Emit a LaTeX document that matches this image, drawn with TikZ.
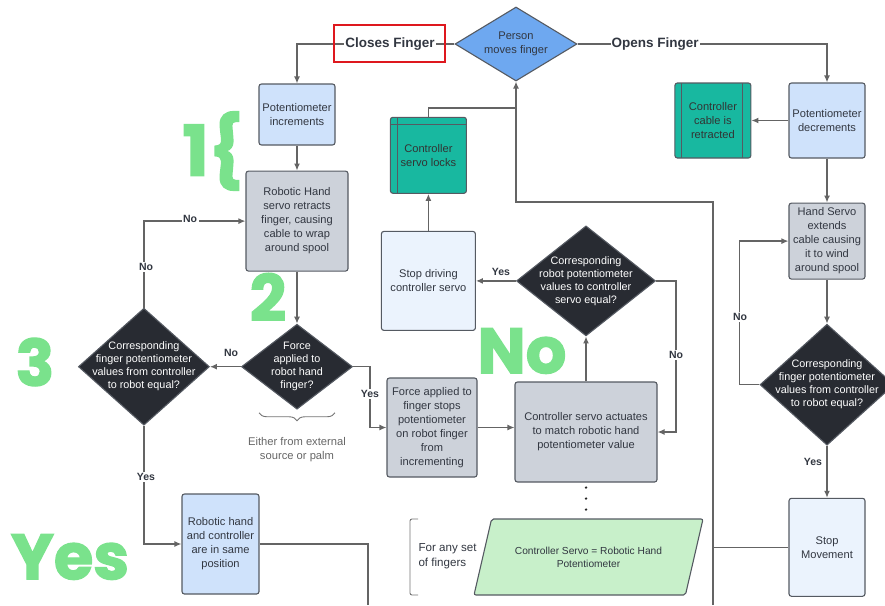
\documentclass[tikz,border=0pt]{standalone}
\usepackage{fontspec}
\setmainfont{Liberation Sans}
\newfontfamily\bigfont{Poppins}[BoldFeatures={FakeBold=2}]
\usepackage{tikz}
\usetikzlibrary{shapes.geometric, positioning}
\usetikzlibrary{arrows.meta, decorations.pathreplacing}
\tikzset{>={Latex[width=6pt,length=7pt]}}

\definecolor{boxblue}{RGB}{207,226,251}
\definecolor{boxpale}{RGB}{235,243,253}
\definecolor{boxgrey}{RGB}{205,210,218}
\definecolor{boxteal}{RGB}{24,184,160}
\definecolor{boxdark}{RGB}{40,43,50}
\definecolor{diablue}{RGB}{110,168,240}
\definecolor{paragreen}{RGB}{200,240,202}
\definecolor{numgreen}{RGB}{122,226,140}
\definecolor{edgeg}{RGB}{85,90,98}
\definecolor{lineg}{RGB}{100,100,100}
\definecolor{textg}{RGB}{50,55,65}
\definecolor{framered}{RGB}{222,24,30}

\begin{document}
\begin{tikzpicture}[x=1pt, y=-1pt,
    box/.style={rectangle, rounded corners=2.5pt, draw=edgeg, line width=1.1pt, align=center, text=textg, inner sep=0.5pt, font=\fontsize{11.1}{14}\selectfont},
    bluebox/.style={box, fill=boxblue},
    palebox/.style={box, fill=boxpale},
    greybox/.style={box, fill=boxgrey},
    tealbox/.style={box, fill=boxteal, text=black!80},
    decision/.style={diamond, draw=edgeg, line width=1.1pt, fill=boxdark, text=white, align=center, inner sep=-12pt, font=\fontsize{10.8}{13}\selectfont},
    flowlabel/.style={fill=white, inner sep=1.5pt, text=textg, font=\bfseries\fontsize{10.5}{12}\selectfont},
    branchlabel/.style={fill=white, inner sep=1pt, text=textg, font=\bfseries\fontsize{13.5}{15}\selectfont},
    bignum/.style={text=numgreen, font=\bigfont\bfseries\fontsize{64}{64}\selectfont},
    flow/.style={draw=lineg, line width=1.3pt},
    dotflow/.style={draw=black!85, line width=2.6pt, line cap=round, dash pattern=on 0pt off 11pt},
    note/.style={text=black!60, align=center, font=\fontsize{11.2}{14}\selectfont} ]

    \useasboundingbox (0,0) rectangle (885,605);

    %Nodes
    \node[diamond, draw=edgeg, line width=1.1pt, fill=diablue, text=textg, align=center, inner sep=-6pt, aspect=1.65, minimum width=122pt, minimum height=74pt, font=\fontsize{11.1}{14}\selectfont] (person) at (516,44) {Person\\moves finger};
    \node[bluebox, minimum width=76pt, minimum height=61pt] (potinc) at (297,114.5) {Potentiometer\\increments};
    \node[greybox, minimum width=102pt, minimum height=100pt] (retract) [below=25pt of potinc] {Robotic Hand\\servo retracts\\finger, causing\\cable to wrap\\around spool};
    \node[decision, aspect=1.3, minimum width=111pt, minimum height=85pt] (force) [below=52pt of retract] {Force\\applied to\\robot hand\\finger?};
    \node[decision, aspect=1.12, minimum width=131pt, minimum height=117pt] (corr1) [left=31pt of force] {Corresponding\\finger potentiometer\\values from controller\\to robot equal?};
    \node[bluebox, minimum width=77pt, minimum height=100pt] (same) at (220.5,544) {Robotic hand\\and controller\\are in same\\position};
    \node[greybox, minimum width=90pt, minimum height=99pt] (forcestop) at (432,427.5) {Force applied to\\finger stops\\potentiometer\\on robot finger\\from\\incrementing};
    \node[greybox, minimum width=142pt, minimum height=100pt] (actuate) at (586,432) {Controller servo actuates\\to match robotic hand\\potentiometer value};
    \node[decision, aspect=1.26, minimum width=139pt, minimum height=110pt] (corr2) [above=45pt of actuate] {Corresponding\\robot potentiometer\\values to controller\\servo equal?};
    \node[palebox, minimum width=94pt, minimum height=99pt] (stopdrive) [left=40pt of corr2] {Stop driving\\controller servo};
    \node[tealbox, minimum width=76pt, minimum height=76pt,
        path picture={\draw[edgeg, line width=0.9pt] ([xshift=7pt]path picture bounding box.north west) -- ([xshift=7pt]path picture bounding box.south west);
                      \draw[edgeg, line width=0.9pt] ([yshift=-7pt]path picture bounding box.north west) -- ([yshift=-7pt]path picture bounding box.north east);}] (locks) [above=37pt of stopdrive] {Controller\\servo locks};
    \node[bluebox, minimum width=76pt, minimum height=75pt] (potdec) at (827,120.5) {Potentiometer\\decrements};
    \node[tealbox, minimum width=76pt, minimum height=75pt,
        path picture={\draw[edgeg, line width=0.9pt] ([xshift=7pt]path picture bounding box.north west) -- ([xshift=7pt]path picture bounding box.south west);
                      \draw[edgeg, line width=0.9pt] ([xshift=-8pt]path picture bounding box.north east) -- ([xshift=-8pt]path picture bounding box.south east);}] (cable) [left=37pt of potdec] {Controller\\cable is\\retracted};
    \node[greybox, minimum width=76pt, minimum height=76pt] (extend) [below=44pt of potdec] {Hand Servo\\extends\\cable causing\\it to wind\\around spool};
    \node[decision, aspect=1.1, minimum width=134pt, minimum height=121pt] (corr3) [below=44pt of extend] {Corresponding\\finger potentiometer\\values from controller\\to robot equal?};
    \node[palebox, minimum width=76pt, minimum height=98pt] (stopmove) [below=52pt of corr3] {Stop\\Movement};
    \node[trapezium, trapezium left angle=76, trapezium right angle=104, trapezium stretches body, draw=edgeg, line width=1.1pt, rounded corners=2pt, fill=paragreen, text=textg, align=center, inner xsep=2pt, inner ysep=25pt, minimum width=229pt, minimum height=76pt, font=\fontsize{10.2}{13}\selectfont] (param) at (588.5,557) {Controller Servo = Robotic Hand\\Potentiometer};
    \node[anchor=west, align=left, text=textg, font=\fontsize{11.6}{15}\selectfont] (fingerset) at (415,556) {For any set\\of fingers};
    \node[note] (either) at (297,450) {Either from external\\source or palm};

    %Big numbers
    \node[bignum, font=\bigfont\bfseries\fontsize{70}{70}\selectfont] (one) at (213,151) {1\{};
    \node[bignum] (two) at (268,297) {2};
    \node[bignum] (three) at (35,362) {3};
    \node[bignum] (nobig) at (522,351) {No};
    \node[bignum] (yesbig) at (70,557) {Yes};

    \coordinate (returnend) at (713,605);
    \coordinate (returnturn) at (516,202);
    \coordinate (returnjoin) at (516,108);
    \coordinate (samedrop) at (368,605);

    %Lines
    \draw[flow, ->] (person.west) -| (potinc.north);
    \draw[flow, ->] (person.east) -| (potdec.north);
    \draw[flow, ->] (potinc) -- (retract);
    \draw[flow, ->] (retract) -- (force);
    \draw[flow, ->] (force) -- (corr1);
    \draw[flow, ->] (corr1.north) |- (retract.west);
    \draw[flow, ->] (corr1.south) |- (same.west);
    \draw[flow] (same.east) -| (samedrop);
    \draw[flow, ->] (force.east) -- ++(17,0) |- (forcestop.west);
    \draw[flow, ->] (forcestop.east) -- (forcestop.east -| actuate.west);
    \draw[flow, ->] (actuate) -- (corr2);
    \draw[flow, ->] (corr2) -- (stopdrive);
    \draw[flow, ->] (corr2.east) -- ++(20,0) |- (actuate.east);
    \draw[flow, ->] (stopdrive) -- (locks);
    \draw[flow] (locks.north) |- (returnjoin);
    \draw[flow, ->] (returnend) |- (returnturn) -- (person.south);
    \draw[flow] (stopmove.west) -- (stopmove.west -| returnend);
    \draw[flow, ->] (potdec) -- (cable);
    \draw[flow, ->] (potdec) -- (extend);
    \draw[flow, ->] (extend) -- (corr3);
    \draw[flow, ->] (corr3.west) -- ++(-20,0) |- (extend.west);
    \draw[flow, ->] (corr3) -- (stopmove);
    \draw[dotflow, shorten <=5pt] (actuate.south) -- (actuate.south |- param.north);
    \draw[decorate, decoration={brace, mirror, amplitude=8pt}, draw=black!55, line width=0.9pt] ([xshift=-38pt, yshift=-3pt]force.south) -- ([xshift=38pt, yshift=-3pt]force.south);
    \draw[draw=black!55, line width=0.9pt, rounded corners=2pt] (418,519) -| (410,595) -- (418,595);

    %Labels
    \node[branchlabel] (closes) at (390,44) {Closes Finger};
    \node[draw=framered, line width=2pt, minimum width=111pt, minimum height=37pt] (closesframe) at (389.5,43.5) {};
    \node[branchlabel] (opens) at (655,44) {Opens Finger};
    \node[flowlabel] (noforce) at (231,353) {No};
    \node[flowlabel] (noup) at (146,267) {No};
    \node[flowlabel] (noback) at (190,219) {No};
    \node[flowlabel] (yessame) at (146,477) {Yes};
    \node[flowlabel] (yesforce) at (370,394) {Yes};
    \node[flowlabel] (yesstop) at (501,272) {Yes};
    \node[flowlabel] (noactuate) at (676,355) {No};
    \node[flowlabel] (noextend) at (740,317) {No};
    \node[flowlabel, fill=none] (yesmove) at (813,462) {Yes};
\end{tikzpicture}
\end{document}
